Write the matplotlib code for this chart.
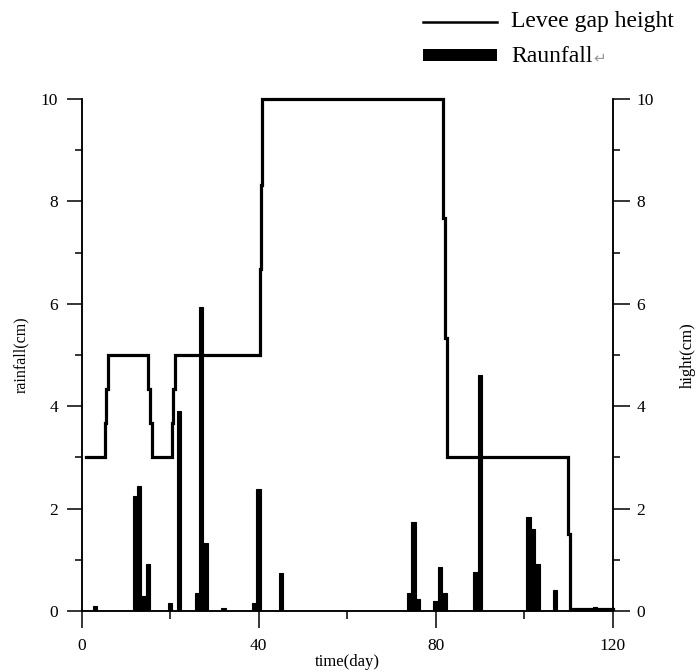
import matplotlib
matplotlib.use("Agg")
import matplotlib.pyplot as plt
from matplotlib.lines import Line2D
from matplotlib.patches import Rectangle
from matplotlib.ticker import MultipleLocator

plt.rcParams['font.family'] = ['Liberation Serif', 'DejaVu Sans']

# Daily rainfall (cm)
rain_day = [3, 12, 13, 14, 15, 20, 22, 26, 27, 28, 32, 39, 40, 45,
            74, 75, 76, 80, 81, 82, 89, 90, 101, 102, 103, 107, 116]
rain_cm = [0.1, 2.25, 2.45, 0.29, 0.92, 0.15, 3.9, 0.35, 5.93, 1.33, 0.06, 0.15, 2.38, 0.75,
           0.35, 1.74, 0.23, 0.2, 0.85, 0.35, 0.76, 4.6, 1.83, 1.6, 0.91, 0.41, 0.08]

# Levee gap height (cm), held constant after each change
gap_day = [1, 5.3, 5.6, 6.0, 15.0, 15.4, 15.8, 20.3, 20.7, 21.1, 40.2, 40.45, 40.8,
           81.6, 82.1, 82.6, 110.0, 110.4, 120]
gap_height = [3, 3.67, 4.33, 5, 4.33, 3.67, 3, 3.67, 4.33, 5, 6.67, 8.33, 10,
              7.67, 5.33, 3, 1.5, 0.04, 0.04]

x_ticks = [0, 40, 80, 120]
y_ticks = [0, 2, 4, 6, 8, 10]

W, H = 696, 672
fig = plt.figure(figsize=(W / 100, H / 100), dpi=100)
left, right, bottom, top = 81.7, 612.7, 611, 99
ax = fig.add_axes([left / W, 1 - bottom / H, (right - left) / W, (bottom - top) / H])
ax2 = ax.twinx()

ax.bar(rain_day, rain_cm, width=1.0, color='black', edgecolor='black', linewidth=0.8)
ax2.plot(gap_day, gap_height, drawstyle='steps-post', color='black', lw=2.3,
         solid_joinstyle='miter', clip_on=False)

for a in (ax, ax2):
    a.set_xlim(0, 120)
    a.set_ylim(0, 10)
    a.spines['top'].set_visible(False)
    for s in a.spines.values():
        s.set_linewidth(1.1)
    a.set_yticks(y_ticks)
    a.yaxis.set_minor_locator(MultipleLocator(1))

ax.set_xticks(x_ticks)
ax.xaxis.set_minor_locator(MultipleLocator(20))
ax.tick_params(axis='x', which='major', direction='out', length=12.5, width=1.1,
               pad=7, labelsize=12.5)
ax.tick_params(axis='x', which='minor', direction='out', length=6, width=1.1)
ax.tick_params(axis='y', which='major', direction='out', length=11, width=1.1,
               pad=6, labelsize=12.5)
ax.tick_params(axis='y', which='minor', direction='out', length=5, width=1.1)
ax2.tick_params(axis='y', which='major', direction='out', length=12, width=1.1,
                pad=5, labelsize=12.5)
ax2.tick_params(axis='y', which='minor', direction='out', length=5, width=1.1)

ax.set_xlabel('time(day)', fontsize=12, va='center')
ax.xaxis.set_label_coords(0.5, -0.1)
ax.set_ylabel('rainfall(cm)', fontsize=11.5, va='center')
ax.yaxis.set_label_coords(-0.114, 0.5)
ax2.set_ylabel('hight(cm)', fontsize=12, va='center')
ax2.yaxis.set_label_coords(1.141, 0.5)

# Legend drawn in figure pixels
def fx(px):
    return px / W

def fy(py):
    return 1 - py / H

fig.add_artist(Line2D([fx(423), fx(497)], [fy(22), fy(22)], color='black', lw=1.8,
                      transform=fig.transFigure))
fig.add_artist(Rectangle((fx(423), fy(61)), fx(497) - fx(423), fy(49) - fy(61),
                         facecolor='black', edgecolor='none', transform=fig.transFigure))
fig.text(fx(511), fy(22), 'Levee gap height', fontsize=17, va='center', ha='left')
t = fig.text(fx(511), fy(56), 'Raunfall', fontsize=17, va='center', ha='left')
fig.canvas.draw()
bb = t.get_window_extent()
fig.text(bb.x1 / W + 0.001, fy(58), '\u21b5', fontsize=11, color='#999999',
         va='center', ha='left', family=['DejaVu Sans'])

fig.savefig('out.png', dpi=100)
